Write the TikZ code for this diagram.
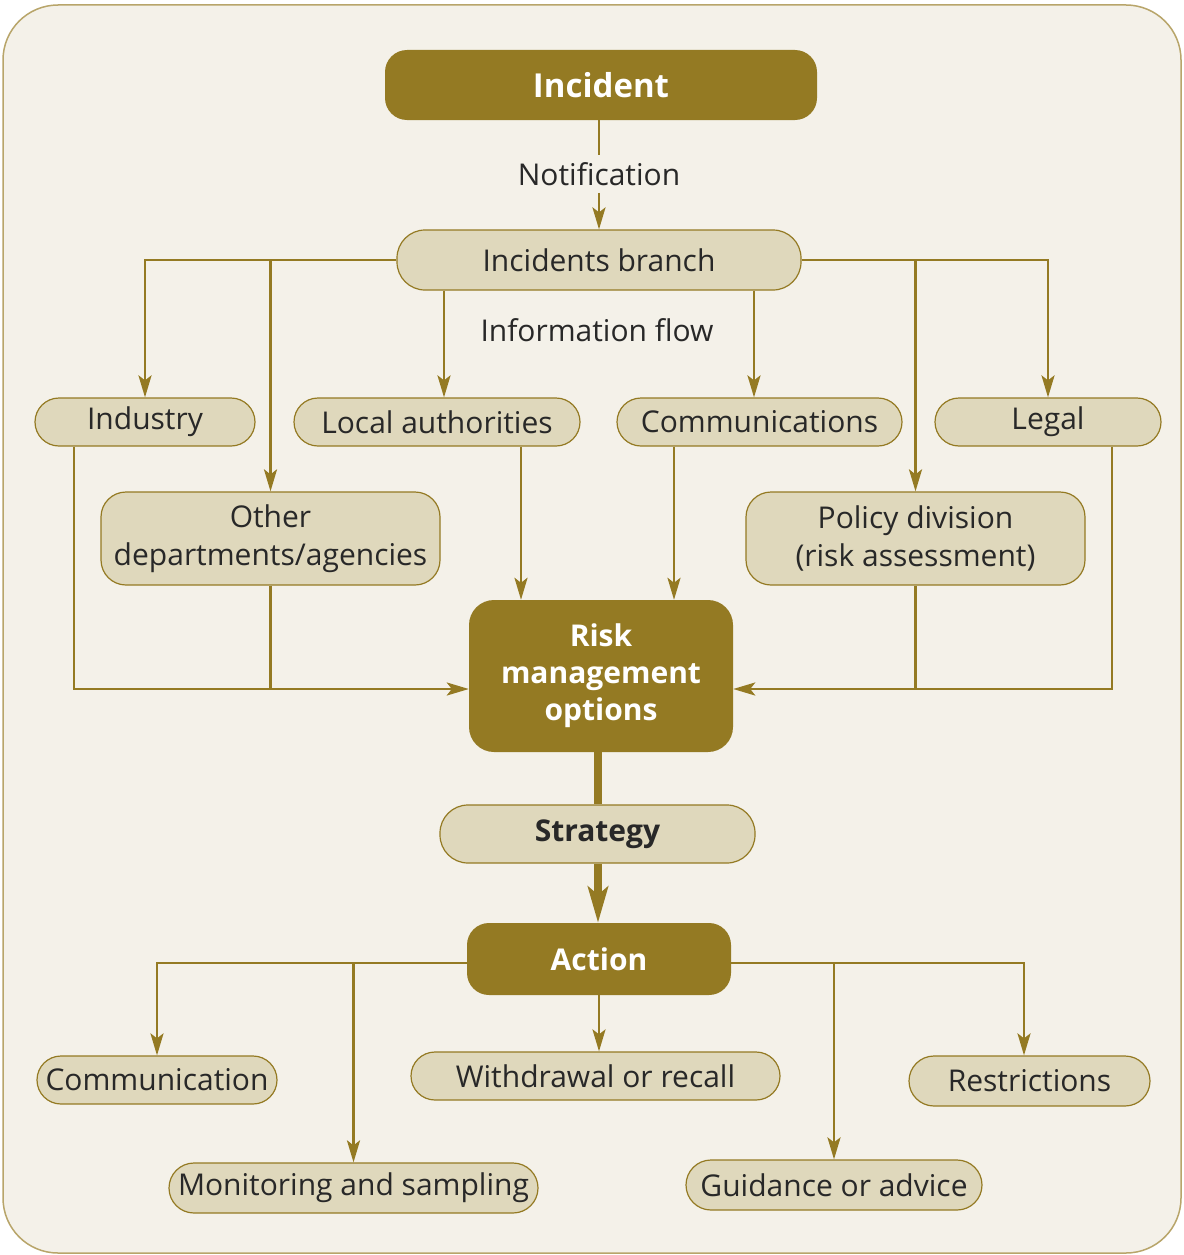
\documentclass[tikz,border=0pt]{standalone}
\usepackage{fontspec}
\setmainfont{Open Sans}
\usetikzlibrary{arrows.meta}
\definecolor{gold}{RGB}{148,122,35}
\definecolor{lightfill}{RGB}{223,216,188}
\definecolor{bgc}{RGB}{244,241,233}
\definecolor{txt}{RGB}{40,40,40}
\definecolor{framec}{RGB}{184,165,106}
\begin{document}
\begin{tikzpicture}[x=1pt,y=-1pt,
  dbox/.style={fill=gold, text=white, font=\fontsize{30}{37}\selectfont\bfseries, rounded corners=22pt, inner sep=0pt, align=center},
  lbox/.style={fill=lightfill, draw=gold, line width=1.2pt, text=txt, font=\fontsize{30}{38}\selectfont, rounded corners=24pt, inner sep=0pt, align=center},
  conn/.style={draw=gold, line width=2.8pt},
  arr/.style={conn, -{Stealth[length=22pt,width=13pt,inset=5pt]}},
  thkconn/.style={draw=gold, line width=8pt},
  thkarr/.style={thkconn, -{Stealth[length=36pt,width=20pt,inset=8pt]}},
  lbl/.style={text=txt, font=\fontsize{30}{36}\selectfont}
]
\useasboundingbox (0,0) rectangle (1183,1255);
\draw[fill=bgc, draw=framec, line width=1.5pt, rounded corners=55pt] (3,5) rectangle (1181,1253);

% nodes
\node[dbox, minimum width=432pt, minimum height=70pt, font=\fontsize{33}{40}\selectfont\bfseries] (incident) at (601,85) {Incident};
\node[lbl, inner xsep=4pt, inner ysep=7pt] (notif) at (599,174) {Notification};
\node[lbox, minimum width=404pt, minimum height=60pt, rounded corners=28pt] (branch) at (599,260) {Incidents branch};
\node[lbl] (info) at (597,330) {Information flow};

\node[lbox, minimum width=220pt, minimum height=48pt] (industry) at (145,422) {Industry};
\node[lbox, minimum width=286pt, minimum height=48pt] (local) at (437,422) {Local authorities};
\node[lbox, minimum width=285pt, minimum height=48pt] (comm) at (759.5,422) {Communications};
\node[lbox, minimum width=226pt, minimum height=48pt] (legal) at (1048,422) {Legal};
\node[lbox, minimum width=339pt, minimum height=93pt, rounded corners=25pt] (other) at (270.5,538.5) {Other\\departments/agencies};
\node[lbox, minimum width=339pt, minimum height=93pt, rounded corners=25pt] (policy) at (915.5,538.5) {Policy division\\(risk assessment)};

\node[dbox, minimum width=264pt, minimum height=152pt, rounded corners=25pt] (risk) at (601,676) {Risk\\management\\options};
\node[lbox, minimum width=315pt, minimum height=58pt, rounded corners=28pt, font=\fontsize{30}{38}\selectfont\bfseries] (strategy) at (597.5,834) {Strategy};
\node[dbox, minimum width=264pt, minimum height=72pt] (action) at (599,959) {Action};

\node[lbox, minimum width=240pt, minimum height=48pt] (communication) at (157,1080) {Communication};
\node[lbox, minimum width=369pt, minimum height=48pt] (withdrawal) at (595.5,1076) {Withdrawal or recall};
\node[lbox, minimum width=241pt, minimum height=50pt, rounded corners=25pt] (restrictions) at (1029.5,1081) {Restrictions};
\node[lbox, minimum width=369pt, minimum height=50pt, rounded corners=25pt] (monitoring) at (353.5,1188) {Monitoring and sampling};
\node[lbox, minimum width=296pt, minimum height=50pt, rounded corners=25pt] (guidance) at (834,1185) {Guidance or advice};

% helper coordinates
\coordinate (lx) at (444,0);
\coordinate (cx) at (754,0);
\coordinate (la) at (521,0);
\coordinate (ca) at (674,0);
\coordinate (ix) at (74,0);
\coordinate (gx) at (1112,0);
\coordinate (yl) at (0,689);
\coordinate (ay) at (0,963);
\coordinate (rx) at (1024,0);
\coordinate (sx) at (598,0);

% connectors top
\draw[conn] (incident.south -| notif.north) -- (notif.north);
\draw[arr] (notif.south) -- (branch.north -| notif.south);
\draw[arr] (branch.west) -| (industry.north);
\draw[arr] (branch.west -| other.north) -- (other.north);
\draw[arr] (branch.south -| lx) -- (local.north -| lx);
\draw[arr] (branch.south -| cx) -- (comm.north -| cx);
\draw[arr] (branch.east) -| (legal.north);
\draw[arr] (branch.east -| policy.north) -- (policy.north);

% to risk
\draw[arr] (local.south -| la) -- (risk.north -| la);
\draw[arr] (comm.south -| ca) -- (risk.north -| ca);
\draw[arr] (industry.south -| ix) |- (risk.west |- yl);
\draw[conn] (other.south) -- (other.south |- yl);
\draw[arr] (legal.south -| gx) |- (risk.east |- yl);
\draw[conn] (policy.south) -- (policy.south |- yl);

% strategy
\draw[thkconn] (risk.south -| sx) -- (strategy.north -| sx);
\draw[thkarr] (strategy.south -| sx) -- (action.north -| sx);

% bottom
\draw[arr] (action.west |- ay) -| (communication.north);
\draw[arr] (monitoring.north |- ay) -- (monitoring.north);
\draw[arr] (action.south) -- (withdrawal.north -| action.south);
\draw[arr] (action.east |- ay) -| (restrictions.north -| rx);
\draw[arr] (guidance.north |- ay) -- (guidance.north);
\end{tikzpicture}
\end{document}
